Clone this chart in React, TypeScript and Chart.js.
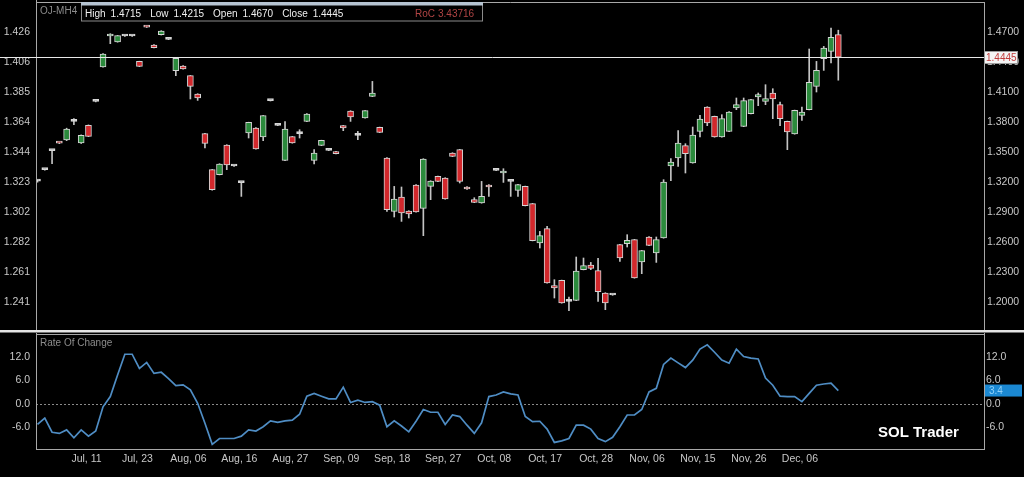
import React, { useEffect, useRef } from 'react';
import { Chart, registerables } from 'chart.js';

Chart.register(...registerables);

// ---------------- DATA ----------------
const symbolName = 'OJ-MH4';

const opens = [
  1.3205, 1.332, 1.351, 1.359, 1.3617, 1.3803, 1.3587, 1.3763, 1.4003, 1.4347,
  1.4657, 1.4597, 1.4657, 1.4657, 1.4403, 1.4755, 1.4567, 1.467, 1.4623, 1.431,
  1.4357, 1.426, 1.4077, 1.368, 1.332, 1.327, 1.3567, 1.3357, 1.319, 1.3687,
  1.3737, 1.3647, 1.401, 1.3763, 1.3413, 1.365, 1.368, 1.3803, 1.3413, 1.3563,
  1.3513, 1.35, 1.376, 1.3907, 1.3663, 1.3837, 1.4053, 1.3743, 1.3437, 1.2903,
  1.3047, 1.2907, 1.3167, 1.2933, 1.3153, 1.3253, 1.3237, 1.3487, 1.352, 1.3147,
  1.302, 1.2987, 1.3167, 1.3313, 1.3287, 1.3203, 1.3113, 1.3153, 1.298, 1.2587,
  1.273, 1.216, 1.2213, 1.2003, 1.2013, 1.232, 1.2367, 1.231, 1.2087, 1.2067,
  1.257, 1.258, 1.262, 1.2397, 1.2647, 1.2487, 1.2637, 1.3357, 1.3437, 1.356,
  1.3387, 1.3703, 1.3947, 1.3853, 1.3647, 1.3703, 1.3937, 1.3753, 1.388, 1.4047,
  1.4003, 1.4087, 1.397, 1.3803, 1.3677, 1.3863, 1.392, 1.4153, 1.443, 1.4503,
  1.467,
];

const highs = [
  1.3215, 1.3325, 1.3515, 1.3595, 1.3735, 1.383, 1.3668, 1.3768, 1.4006, 1.448,
  1.468, 1.4663, 1.466, 1.466, 1.4405, 1.4758, 1.457, 1.471, 1.4626, 1.4437,
  1.436, 1.4262, 1.408, 1.3683, 1.3322, 1.338, 1.357, 1.336, 1.3195, 1.3795,
  1.374, 1.3862, 1.4013, 1.3766, 1.38, 1.3653, 1.372, 1.388, 1.352, 1.3615,
  1.3516, 1.3503, 1.3763, 1.391, 1.3703, 1.3912, 1.4203, 1.3746, 1.344, 1.3153,
  1.3147, 1.291, 1.317, 1.343, 1.321, 1.3256, 1.324, 1.349, 1.3523, 1.315,
  1.304, 1.3203, 1.317, 1.3316, 1.333, 1.3206, 1.3173, 1.3156, 1.2983, 1.2703,
  1.2753, 1.222, 1.2216, 1.2047, 1.2447, 1.2437, 1.2393, 1.2433, 1.209, 1.207,
  1.2573, 1.267, 1.2623, 1.2513, 1.265, 1.2647, 1.322, 1.343, 1.371, 1.358,
  1.3747, 1.3863, 1.395, 1.3856, 1.387, 1.39, 1.4037, 1.4037, 1.4023, 1.4087,
  1.417, 1.413, 1.3997, 1.3806, 1.3916, 1.3947, 1.4527, 1.4403, 1.4553, 1.4737,
  1.4715,
];

const lows = [
  1.3195, 1.3315, 1.338, 1.358, 1.361, 1.377, 1.3582, 1.365, 1.3998, 1.4345,
  1.458, 1.4595, 1.4654, 1.4654, 1.435, 1.4742, 1.4537, 1.4667, 1.462, 1.426,
  1.4325, 1.4027, 1.4013, 1.3537, 1.3115, 1.3268, 1.332, 1.3354, 1.3053, 1.3637,
  1.3525, 1.361, 1.4007, 1.376, 1.341, 1.3585, 1.3637, 1.38, 1.3377, 1.356,
  1.351, 1.3477, 1.371, 1.3803, 1.362, 1.3835, 1.405, 1.369, 1.2903, 1.2847,
  1.2803, 1.2837, 1.2895, 1.266, 1.302, 1.32, 1.3025, 1.345, 1.3187, 1.3124,
  1.299, 1.2985, 1.3053, 1.331, 1.3193, 1.3053, 1.3053, 1.2958, 1.2608, 1.2537,
  1.2185, 1.2037, 1.1985, 1.191, 1.201, 1.2318, 1.232, 1.2003, 1.192, 1.2064,
  1.2403, 1.2547, 1.2235, 1.228, 1.256, 1.2393, 1.2635, 1.321, 1.3353, 1.3287,
  1.3385, 1.3647, 1.376, 1.3645, 1.3645, 1.37, 1.392, 1.375, 1.3877, 1.396,
  1.397, 1.383, 1.376, 1.352, 1.3675, 1.3813, 1.3918, 1.4097, 1.4313, 1.4387,
  1.4215,
];

const closes = [
  1.3205, 1.332, 1.351, 1.3585, 1.3727, 1.3803, 1.3663, 1.3653, 1.4003, 1.4477,
  1.4677, 1.466, 1.4657, 1.4657, 1.4353, 1.4745, 1.454, 1.4707, 1.4623, 1.4433,
  1.4327, 1.4153, 1.4037, 1.3583, 1.312, 1.3377, 1.3367, 1.3357, 1.319, 1.3793,
  1.3527, 1.386, 1.401, 1.3763, 1.3727, 1.3587, 1.368, 1.3877, 1.3487, 1.3613,
  1.3513, 1.348, 1.3737, 1.3847, 1.3663, 1.391, 1.4087, 1.3693, 1.292, 1.3027,
  1.2887, 1.2877, 1.2897, 1.3427, 1.3207, 1.3203, 1.3027, 1.3453, 1.3203, 1.3127,
  1.2993, 1.3053, 1.3147, 1.3313, 1.3303, 1.3203, 1.317, 1.296, 1.261, 1.266,
  1.2187, 1.2137, 1.1987, 1.2003, 1.2307, 1.236, 1.2333, 1.21, 1.1987, 1.2067,
  1.2437, 1.2613, 1.2237, 1.251, 1.2563, 1.262, 1.3197, 1.3397, 1.3587, 1.348,
  1.3667, 1.3827, 1.3787, 1.3647, 1.383, 1.3897, 1.397, 1.401, 1.402, 1.407,
  1.403, 1.4027, 1.383, 1.3697, 1.3913, 1.3897, 1.4193, 1.4313, 1.4537, 1.4643,
  1.4445,
];

const rocValues = [
  -5.2, -3.6, -7.2, -7.5, -6.6, -8.6, -6.6, -8.2, -6.9, -0.7,
  1.9, 7.4, 12.7, 12.7, 9.1, 10.6, 7.8, 8.1, 6.5, 4.7,
  4.9, 3.6, 0.2, -4.9, -10.3, -8.8, -8.8, -8.8, -8.2, -6.6,
  -6.9, -5.8, -4.3, -4.7, -4.3, -4.1, -2.6, 2.0, 2.7, 2.0,
  1.3, 1.3, 4.3, 0.4, 1.0, 0.4, 0.6, -0.3, -5.8, -4.3,
  -5.6, -7.1, -4.4, -1.4, -2.1, -2.1, -5.2, -2.8, -3.2, -5.4,
  -7.5, -4.8, 1.9, 2.3, 3.1, 2.6, 2.3, -3.2, -4.5, -4.4,
  -6.4, -9.8, -9.4, -8.8, -5.4, -5.4, -6.4, -8.8, -9.6, -8.5,
  -5.8, -2.8, -2.8, -1.4, 3.1, 4.0, 10.1, 11.7, 10.5, 9.3,
  11.2, 14.0, 15.1, 13.2, 11.2, 10.4, 14.0, 12.1, 11.7, 11.5,
  6.6, 4.8, 2.0, 1.9, 1.9, 0.6, 2.7, 4.8, 5.1, 5.3,
  3.43716,
];

const priceTicks = [1.47, 1.44, 1.41, 1.38, 1.35, 1.32, 1.29, 1.26, 1.23, 1.2];
const leftPriceLabels = ['1.426', '1.406', '1.385', '1.364', '1.344', '1.323', '1.302', '1.282', '1.261', '1.241'];
const rocTicks = [12, 6, 0, -6];
const dateTickIndex = [7, 14, 21, 28, 35, 42, 49, 56, 63, 70, 77, 84, 91, 98, 105];
const dateLabels = ['Jul, 11', 'Jul, 23', 'Aug, 06', 'Aug, 16', 'Aug, 27', 'Sep, 09', 'Sep, 18', 'Sep, 27', 'Oct, 08', 'Oct, 17', 'Oct, 28', 'Nov, 06', 'Nov, 15', 'Nov, 26', 'Dec, 06'];
const rocTitle = 'Rate Of Change';
const rocLabel = 'RoC';
const watermark = 'SOL Trader';

// ---------------- STYLE ----------------
const FONT = "'Liberation Sans', Arial, sans-serif";
const AXIS_COLOR = '#c8c8c8';
const FRAME = '#a8a8a8';
const X_MIN = -0.206;
const X_MAX = 130.15;
const P_MAX = 1.4987;
const P_MIN = 1.1717;
const R_MAX = 17.86;
const R_MIN = -11.73;
const LEFT_W = 36;
const RIGHT_W = 39;

Chart.defaults.font.family = FONT;
Chart.defaults.font.size = 10.5;
Chart.defaults.color = AXIS_COLOR;

const fixY = (w: number) => (s: any) => {
  s.width = w;
  s.paddingTop = 0;
  s.paddingBottom = 0;
};

const mainOverlay = {
  id: 'mainOverlay',
  afterDraw(chart: any) {
    const { ctx, chartArea: a, scales } = chart;
    const n = closes.length;
    ctx.save();
    // frame
    ctx.strokeStyle = FRAME;
    ctx.lineWidth = 1;
    ctx.beginPath();
    ctx.moveTo(a.left + 0.5, 0);
    ctx.lineTo(a.left + 0.5, a.bottom);
    ctx.moveTo(a.left, a.top - 0.5);
    ctx.lineTo(a.right, a.top - 0.5);
    ctx.moveTo(a.right - 0.5, a.top - 0.5);
    ctx.lineTo(a.right - 0.5, a.bottom);
    ctx.stroke();

    // last price line
    const last = closes[n - 1];
    const yl = Math.round(scales.y.getPixelForValue(last)) + 0.5;
    ctx.strokeStyle = '#e8e8e8';
    ctx.beginPath();
    ctx.moveTo(0, yl);
    ctx.lineTo(a.right, yl);
    ctx.stroke();
    ctx.fillStyle = '#f4f4f4';
    ctx.fillRect(a.right - 1, yl - 6.5, 34, 13);
    ctx.strokeStyle = '#9a9a9a';
    ctx.strokeRect(a.right - 0.5, yl - 6, 33, 12);
    ctx.fillStyle = '#c23c3c';
    ctx.font = `10px ${FONT}`;
    ctx.textBaseline = 'middle';
    ctx.textAlign = 'left';
    ctx.fillText(last.toFixed(4), a.right + 1, yl + 0.5);

    // header
    ctx.textBaseline = 'alphabetic';
    ctx.fillStyle = '#8c8c8c';
    ctx.fillText(symbolName, a.left + 4, 13.5);
    ctx.fillStyle = '#000';
    ctx.fillRect(81, 3, 402, 18);
    ctx.strokeStyle = '#8a8a8a';
    ctx.strokeRect(81.5, 3.5, 401, 17.5);
    ctx.fillStyle = '#b6c4d2';
    ctx.fillRect(81, 2, 402, 3.5);
    const parts: string[] = [
      'High', highs[n - 1].toFixed(4),
      'Low', lows[n - 1].toFixed(4),
      'Open', opens[n - 1].toFixed(4),
      'Close', closes[n - 1].toFixed(4),
    ];
    ctx.fillStyle = '#f0f0f0';
    let x = 85;
    parts.forEach((t, k) => {
      ctx.fillText(t, x, 17);
      x += ctx.measureText(t).width + (k % 2 === 0 ? 5 : 9);
    });
    ctx.fillStyle = '#b04444';
    ctx.fillText(rocLabel, 415, 17);
    ctx.fillText(String(rocValues[rocValues.length - 1]), 438, 17);

    // separator
    ctx.fillStyle = '#e4e4e4';
    ctx.fillRect(0, a.bottom, 1024, 2.5);
    ctx.restore();
  },
};

const rocOverlay = {
  id: 'rocOverlay',
  beforeDatasetsDraw(chart: any) {
    const { ctx, chartArea: a, scales } = chart;
    const y0 = Math.round(scales.y.getPixelForValue(0)) + 0.5;
    ctx.save();
    ctx.strokeStyle = '#8a8a8a';
    ctx.lineWidth = 1;
    ctx.setLineDash([2, 2]);
    ctx.beginPath();
    ctx.moveTo(a.left, y0);
    ctx.lineTo(a.right, y0);
    ctx.stroke();
    ctx.restore();
  },
  afterDraw(chart: any) {
    const { ctx, chartArea: a, scales } = chart;
    ctx.save();
    ctx.strokeStyle = FRAME;
    ctx.lineWidth = 1;
    ctx.strokeRect(a.left + 0.5, a.top + 0.5, a.right - a.left - 1, a.bottom - a.top - 1);
    ctx.beginPath();
    ctx.moveTo(a.left + 0.5, 0);
    ctx.lineTo(a.left + 0.5, a.top);
    ctx.moveTo(a.right - 0.5, 0);
    ctx.lineTo(a.right - 0.5, a.top);
    ctx.stroke();

    ctx.font = `10px ${FONT}`;
    ctx.fillStyle = '#8c8c8c';
    ctx.textAlign = 'left';
    ctx.textBaseline = 'alphabetic';
    ctx.fillText(rocTitle, a.left + 4, a.top + 12);

    ctx.font = `bold 15px 'Liberation Sans', Arial, sans-serif`;
    ctx.fillStyle = '#ffffff';
    ctx.fillText(watermark, a.right - 107, a.bottom - 13);

    const last = rocValues[rocValues.length - 1];
    const yv = scales.y.getPixelForValue(last);
    ctx.fillStyle = '#1b88d2';
    ctx.fillRect(a.right, yv - 6, 37, 12);
    ctx.fillStyle = '#8fd0f8';
    ctx.font = `10px ${FONT}`;
    ctx.textBaseline = 'middle';
    ctx.fillText(last.toFixed(1), a.right + 4, yv + 0.5);
    ctx.restore();
  },
};

export default function App() {
  const topRef = useRef<HTMLCanvasElement>(null);
  const botRef = useRef<HTMLCanvasElement>(null);

  useEffect(() => {
    document.body.style.margin = '0';
    document.body.style.background = '#000';
    const idx = opens.map((_, i) => i);
    const bodyColors = idx.map((i) =>
      closes[i] > opens[i] ? '#2b8a3c' : closes[i] < opens[i] ? '#d2282c' : '#e6e6e6'
    );

    const c1 = new Chart(topRef.current as HTMLCanvasElement, {
      type: 'bar',
      data: {
        datasets: [
          {
            label: 'body',
            data: idx.map((i) => ({ x: i, y: [opens[i], closes[i]] })) as any,
            backgroundColor: bodyColors,
            borderColor: '#d6d6d6',
            borderWidth: 1,
            borderSkipped: false,
            barThickness: 6,
            minBarLength: 2,
            grouped: false,
            order: 0,
          } as any,
          {
            label: 'wick',
            data: idx.map((i) => ({ x: i, y: [lows[i], highs[i]] })) as any,
            backgroundColor: '#c4c4c4',
            borderWidth: 0,
            barThickness: 1,
            grouped: false,
            order: 1,
          } as any,
        ],
      },
      options: {
        responsive: false,
        animation: false,
        devicePixelRatio: 1,
        events: [],
        layout: { padding: { top: 3, bottom: 3, left: 0, right: 0 } },
        plugins: { legend: { display: false }, tooltip: { enabled: false } },
        scales: {
          x: { type: 'linear', min: X_MIN, max: X_MAX, offset: false, display: false },
          y: {
            type: 'linear',
            position: 'right',
            min: P_MIN,
            max: P_MAX,
            afterBuildTicks: (s: any) => { s.ticks = priceTicks.map((v) => ({ value: v })); },
            afterFit: fixY(RIGHT_W),
            grid: { display: false, drawTicks: false },
            border: { display: false },
            ticks: { autoSkip: false, padding: 2, color: AXIS_COLOR, callback: (v: any) => Number(v).toFixed(4) },
          },
          yl: {
            type: 'linear',
            position: 'left',
            min: P_MIN,
            max: P_MAX,
            afterBuildTicks: (s: any) => { s.ticks = priceTicks.map((v) => ({ value: v })); },
            afterFit: fixY(LEFT_W),
            grid: { display: false, drawTicks: false },
            border: { display: false },
            ticks: { autoSkip: false, padding: 6, color: AXIS_COLOR, callback: (_v: any, i: number) => leftPriceLabels[i] },
          },
        } as any,
      },
      plugins: [mainOverlay],
    });

    const c2 = new Chart(botRef.current as HTMLCanvasElement, {
      type: 'line',
      data: {
        datasets: [
          {
            label: rocTitle,
            data: rocValues.map((v, i) => ({ x: i, y: v })),
            borderColor: '#4f8dc4',
            borderWidth: 1.7,
            pointRadius: 0,
            tension: 0,
            fill: false,
          },
        ],
      },
      options: {
        responsive: false,
        animation: false,
        devicePixelRatio: 1,
        events: [],
        layout: { padding: { top: 1, bottom: 0, left: 0, right: 0 } },
        plugins: { legend: { display: false }, tooltip: { enabled: false } },
        scales: {
          x: {
            type: 'linear',
            min: X_MIN,
            max: X_MAX,
            offset: false,
            afterBuildTicks: (s: any) => { s.ticks = dateTickIndex.map((v) => ({ value: v })); },
            afterFit: (s: any) => { s.height = 27; s.paddingLeft = 0; s.paddingRight = 0; },
            grid: { display: false, drawTicks: false },
            border: { display: false },
            ticks: {
              autoSkip: false,
              maxRotation: 0,
              padding: 3,
              labelOffset: -2,
              color: AXIS_COLOR,
              callback: (_v: any, i: number) => dateLabels[i],
            },
          },
          y: {
            type: 'linear',
            position: 'right',
            min: R_MIN,
            max: R_MAX,
            afterBuildTicks: (s: any) => { s.ticks = rocTicks.map((v) => ({ value: v })); },
            afterFit: fixY(RIGHT_W),
            grid: { display: false, drawTicks: false },
            border: { display: false },
            ticks: { autoSkip: false, padding: 1, color: AXIS_COLOR, callback: (v: any) => Number(v).toFixed(1) },
          },
          yl: {
            type: 'linear',
            position: 'left',
            min: R_MIN,
            max: R_MAX,
            afterBuildTicks: (s: any) => { s.ticks = rocTicks.map((v) => ({ value: v })); },
            afterFit: fixY(LEFT_W),
            grid: { display: false, drawTicks: false },
            border: { display: false },
            ticks: { autoSkip: false, padding: 6, color: AXIS_COLOR, callback: (v: any) => Number(v).toFixed(1) },
          },
        } as any,
      },
      plugins: [rocOverlay],
    });

    return () => {
      c1.destroy();
      c2.destroy();
    };
  }, []);

  return (
    <div style={{ position: 'fixed', left: 0, top: 0, width: 1024, height: 477, background: '#000', overflow: 'hidden' }}>
      <canvas ref={topRef} width={1024} height={333} style={{ position: 'absolute', left: 0, top: 0, display: 'block' }} />
      <canvas ref={botRef} width={1024} height={144} style={{ position: 'absolute', left: 0, top: 333, display: 'block' }} />
    </div>
  );
}
